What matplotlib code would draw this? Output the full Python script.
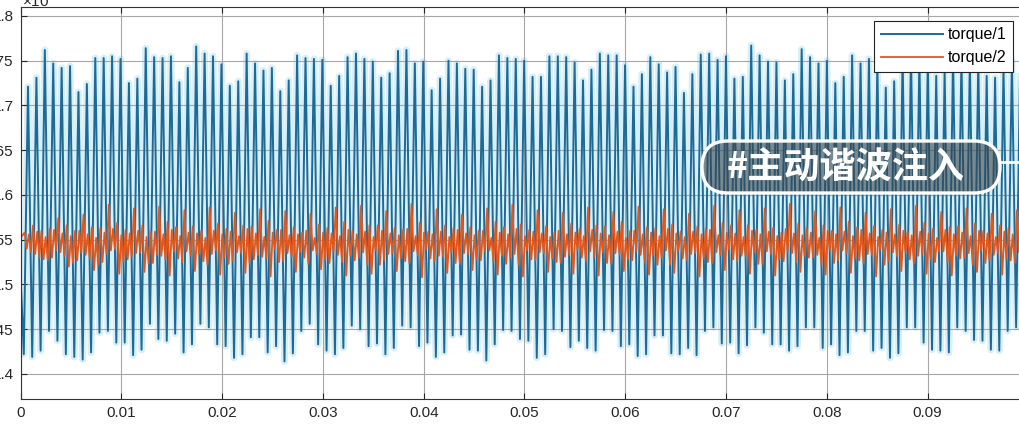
import numpy as np
import matplotlib
matplotlib.use('Agg')
import matplotlib.pyplot as plt
from matplotlib.patches import FancyBboxPatch
from matplotlib.lines import Line2D

plt.rcParams['font.family'] = ['Liberation Sans', 'DejaVu Sans']

# time base (one blue cycle per peak)
t_first_peak = 0.000744
period = 0.0008343
blue_start = 1.512
orange_start = 1.552

# torque/1 peak values, one per cycle (x1e4)
blue_peaks = [
    1.721, 1.731, 1.762, 1.747, 1.742, 1.744,
    1.715, 1.724, 1.753, 1.753, 1.755, 1.752,
    1.725, 1.730, 1.764, 1.754, 1.753, 1.755,
    1.726, 1.742, 1.766, 1.758, 1.755, 1.746,
    1.722, 1.727, 1.758, 1.747, 1.739, 1.742,
    1.716, 1.728, 1.756, 1.753, 1.752, 1.751,
    1.722, 1.733, 1.754, 1.758,
    1.752, 1.749, 1.731, 1.736, 1.761, 1.762, 1.747, 1.749, 1.717, 1.730,
    1.750, 1.747, 1.741, 1.740, 1.721, 1.728, 1.756, 1.753, 1.752, 1.750,
    1.732, 1.732, 1.755, 1.755, 1.754, 1.748, 1.728, 1.740, 1.758, 1.756,
    1.756, 1.745, 1.721, 1.735, 1.754, 1.746, 1.737, 1.743, 1.714,
    1.735, 1.757, 1.758, 1.751, 1.755, 1.730, 1.732, 1.767, 1.756, 1.749,
    1.748, 1.728, 1.735, 1.763, 1.754, 1.747, 1.750, 1.725, 1.732, 1.756,
    1.747, 1.752, 1.748, 1.720, 1.727, 1.755, 1.757, 1.752, 1.750, 1.733,
    1.739, 1.756, 1.752, 1.750, 1.748, 1.733, 1.731, 1.742, 1.750, 1.755,
]

# torque/1 trough values, the one before each peak
blue_troughs = [
    1.422, 1.419, 1.426, 1.448, 1.437, 1.422, 1.419, 1.416, 1.424, 1.446,
    1.448, 1.435, 1.435, 1.421, 1.427, 1.456, 1.439, 1.437, 1.445, 1.424,
    1.433, 1.456, 1.452, 1.433, 1.431, 1.418, 1.422, 1.441, 1.441, 1.424,
    1.431, 1.414, 1.423, 1.448, 1.456, 1.433, 1.426, 1.422, 1.429, 1.454,
    1.450, 1.431, 1.434, 1.422, 1.429, 1.454, 1.452, 1.431, 1.435, 1.419,
    1.424, 1.443, 1.444, 1.427, 1.426, 1.415, 1.433, 1.449, 1.448, 1.439,
    1.437, 1.418, 1.422, 1.450, 1.448, 1.430, 1.437, 1.429, 1.426, 1.449,
    1.448, 1.431, 1.433, 1.420, 1.422, 1.443, 1.443, 1.423, 1.422, 1.429,
    1.421, 1.448, 1.452, 1.434, 1.435, 1.423, 1.432, 1.452, 1.446, 1.433,
    1.433, 1.426, 1.431, 1.452, 1.452, 1.429, 1.433, 1.421, 1.424, 1.448,
    1.448, 1.426, 1.429, 1.418, 1.423, 1.452, 1.452, 1.435, 1.427, 1.426,
    1.424, 1.452, 1.448, 1.438, 1.437, 1.427, 1.426, 1.448, 1.452,
]

# torque/2: two highs and two lows per blue cycle
orange_hi = [
    1.558, 1.566, 1.560, 1.562, 1.574, 1.566, 1.560, 1.578, 1.564, 1.563,
    1.589, 1.569, 1.561, 1.585, 1.566, 1.559, 1.587, 1.570, 1.564, 1.583,
    1.565, 1.560, 1.586, 1.568, 1.562, 1.580, 1.566, 1.565, 1.584, 1.571,
    1.561, 1.582, 1.564, 1.558, 1.579, 1.567, 1.563, 1.586, 1.570, 1.560,
    1.588, 1.566, 1.566, 1.582, 1.563, 1.561, 1.590, 1.569, 1.559, 1.584,
    1.566, 1.563, 1.578, 1.564, 1.560, 1.585, 1.570, 1.564, 1.589, 1.567,
    1.561, 1.583, 1.565, 1.558, 1.580, 1.568, 1.562, 1.586, 1.566, 1.565,
    1.581, 1.570, 1.560, 1.587, 1.564, 1.563, 1.584, 1.567, 1.559, 1.579,
    1.565, 1.562, 1.588, 1.569, 1.566, 1.583, 1.566, 1.561, 1.585, 1.563,
    1.558, 1.590, 1.568, 1.563, 1.582, 1.566, 1.560, 1.586, 1.570, 1.564,
    1.580, 1.565, 1.561, 1.584, 1.567, 1.559, 1.588, 1.569, 1.562, 1.581,
    1.564, 1.565, 1.585, 1.568, 1.560, 1.579, 1.566, 1.563, 1.583,
]
orange_lo = [
    1.540, 1.534, 1.528, 1.530, 1.536, 1.520, 1.527, 1.533, 1.516, 1.525,
    1.538, 1.512, 1.528, 1.535, 1.514, 1.524, 1.532, 1.510, 1.529, 1.537,
    1.515, 1.526, 1.534, 1.511, 1.523, 1.536, 1.513, 1.528, 1.531, 1.509,
    1.525, 1.535, 1.514, 1.530, 1.538, 1.517, 1.524, 1.533, 1.510, 1.527,
    1.536, 1.512, 1.522, 1.534, 1.515, 1.526, 1.537, 1.508, 1.529, 1.532,
    1.513, 1.524, 1.535, 1.516, 1.527, 1.538, 1.511, 1.523, 1.534, 1.509,
    1.528, 1.536, 1.514, 1.525, 1.531, 1.512, 1.530, 1.537, 1.510, 1.524,
    1.535, 1.515, 1.527, 1.533, 1.511, 1.522, 1.538, 1.513, 1.529, 1.534,
    1.509, 1.525, 1.536, 1.516, 1.528, 1.532, 1.512, 1.523, 1.537, 1.510,
    1.526, 1.535, 1.514, 1.530, 1.533, 1.511, 1.524, 1.538, 1.513, 1.527,
    1.534, 1.509, 1.522, 1.536, 1.515, 1.528, 1.532, 1.512, 1.525, 1.537,
    1.510, 1.529, 1.535, 1.514, 1.524, 1.533, 1.511, 1.527, 1.536,
]
orange_hi2 = [
    1.556, 1.559, 1.553, 1.561, 1.557, 1.554, 1.560, 1.556, 1.552, 1.558,
    1.562, 1.555, 1.557, 1.560, 1.553, 1.559, 1.556, 1.561, 1.554, 1.558,
    1.557, 1.552, 1.560, 1.556, 1.559, 1.554, 1.562, 1.557, 1.553, 1.558,
    1.561, 1.555, 1.556, 1.560, 1.552, 1.558, 1.557, 1.554, 1.561, 1.556,
    1.559, 1.553, 1.560, 1.557, 1.555, 1.562, 1.554, 1.558, 1.556, 1.559,
    1.553, 1.561, 1.557, 1.555, 1.560, 1.552, 1.558, 1.556, 1.562, 1.554,
    1.559, 1.557, 1.553, 1.560, 1.556, 1.558, 1.554, 1.561, 1.557, 1.555,
    1.559, 1.552, 1.560, 1.556, 1.558, 1.554, 1.562, 1.557, 1.553, 1.559,
    1.556, 1.561, 1.555, 1.558, 1.557, 1.553, 1.560, 1.556, 1.559, 1.554,
    1.562, 1.557, 1.555, 1.558, 1.552, 1.560, 1.556, 1.559, 1.554, 1.561,
    1.557, 1.553, 1.558, 1.556, 1.560, 1.555, 1.559, 1.557, 1.552, 1.561,
    1.556, 1.558, 1.554, 1.560, 1.557, 1.553, 1.559, 1.556, 1.558,
]
orange_lo2 = [
    1.536, 1.530, 1.527, 1.538, 1.532, 1.524, 1.535, 1.529, 1.522, 1.534,
    1.539, 1.526, 1.531, 1.536, 1.523, 1.533, 1.528, 1.537, 1.525, 1.532,
    1.534, 1.522, 1.538, 1.530, 1.527, 1.535, 1.524, 1.533, 1.529, 1.540,
    1.526, 1.531, 1.536, 1.523, 1.534, 1.528, 1.537, 1.525, 1.532, 1.530,
    1.522, 1.538, 1.527, 1.535, 1.529, 1.524, 1.533, 1.539, 1.526, 1.531,
    1.536, 1.523, 1.534, 1.528, 1.537, 1.525, 1.532, 1.530, 1.522, 1.538,
    1.527, 1.535, 1.529, 1.524, 1.533, 1.539, 1.526, 1.531, 1.536, 1.523,
    1.534, 1.528, 1.537, 1.525, 1.532, 1.530, 1.522, 1.538, 1.527, 1.535,
    1.529, 1.524, 1.533, 1.539, 1.526, 1.531, 1.536, 1.523, 1.534, 1.528,
    1.537, 1.525, 1.532, 1.530, 1.522, 1.538, 1.527, 1.535, 1.529, 1.524,
    1.533, 1.539, 1.526, 1.531, 1.536, 1.523, 1.534, 1.528, 1.537, 1.525,
    1.532, 1.530, 1.522, 1.538, 1.527, 1.535, 1.529, 1.524, 1.533,
]

x_ticks = [0, 0.01, 0.02, 0.03, 0.04, 0.05, 0.06, 0.07, 0.08, 0.09, 0.1]
x_labels = ['0', '0.01', '0.02', '0.03', '0.04', '0.05', '0.06', '0.07', '0.08', '0.09', '0.1']
y_ticks = [1.4, 1.45, 1.5, 1.55, 1.6, 1.65, 1.7, 1.75, 1.8]
y_labels = ['1.4', '1.45', '1.5', '1.55', '1.6', '1.65', '1.7', '1.75', '1.8']

k = np.arange(len(blue_peaks))
t_peak = t_first_peak + period * k
t_trough = t_peak - period / 2

t_blue = np.concatenate([[0.0], np.column_stack([t_trough, t_peak]).ravel()])
y_blue = np.concatenate([[blue_start], np.column_stack([blue_troughs, blue_peaks]).ravel()])

t_orange = np.concatenate([[0.0], np.column_stack([
    t_peak - 0.4 * period, t_peak - 0.15 * period,
    t_peak + 0.1 * period, t_peak + 0.35 * period]).ravel()])
y_orange = np.concatenate([[orange_start], np.column_stack([
    orange_hi, orange_lo, orange_hi2, orange_lo2]).ravel()])

fig = plt.figure(figsize=(10.2, 4.36), dpi=100)
ax = fig.add_axes([0.0201, 0.0849, 0.9882, 0.899])

# faint halo under the blue trace, like the photo
ax.plot(t_blue, y_blue, color='#d6eff8', lw=5, zorder=1)
ax.plot(t_blue, y_blue, color='#1d6a96', lw=1.4, zorder=2, label='torque/1')
ax.plot(t_orange, y_orange, color='#e0581e', lw=1.3, zorder=2.2, label='torque/2')

ax.set_xlim(0, 0.1)
ax.set_ylim(1.372, 1.81)
ax.set_xticks(x_ticks)
ax.set_xticklabels(x_labels)
ax.set_yticks(y_ticks)
ax.set_yticklabels(y_labels)
ax.tick_params(direction='in', length=4, top=True, right=True, labelsize=11,
               pad=5, colors='#262626')
ax.grid(True, color='#a6a6a6', lw=0.8)
ax.set_axisbelow('line')
for sp in ax.spines.values():
    sp.set_color('#333333')
    sp.set_linewidth(0.8)

leg = ax.legend(loc='upper right', bbox_to_anchor=(0.9846, 0.9643), borderaxespad=0,
                fontsize=11.5, handlelength=3.9, handletextpad=0.3, borderpad=0.4,
                labelspacing=0.5, fancybox=False, framealpha=1, edgecolor='#222222')
leg.get_frame().set_linewidth(0.8)

fig.text(0.022, 0.998, '×10$^{4}$', fontsize=11, va='center', ha='left', color='#262626')

# watermark-style label
box = FancyBboxPatch((7.02, 2.43), 2.98, 0.52, boxstyle='round,pad=0,rounding_size=0.26',
                     transform=fig.dpi_scale_trans, facecolor=(0.22, 0.27, 0.30, 0.6),
                     edgecolor='white', lw=2.4, zorder=10)
fig.add_artist(box)
fig.add_artist(Line2D([10.02, 10.2], [2.74, 2.74], transform=fig.dpi_scale_trans,
                      color='white', lw=2, zorder=10))
fig.text(8.46 / 10.2, 2.68 / 4.36, '#主动谐波注入', fontsize=26, fontweight='bold',
         color='white', ha='center', va='center', zorder=11,
         family=['Noto Sans CJK SC', 'DejaVu Sans'])

fig.savefig('out.png', dpi=100)
